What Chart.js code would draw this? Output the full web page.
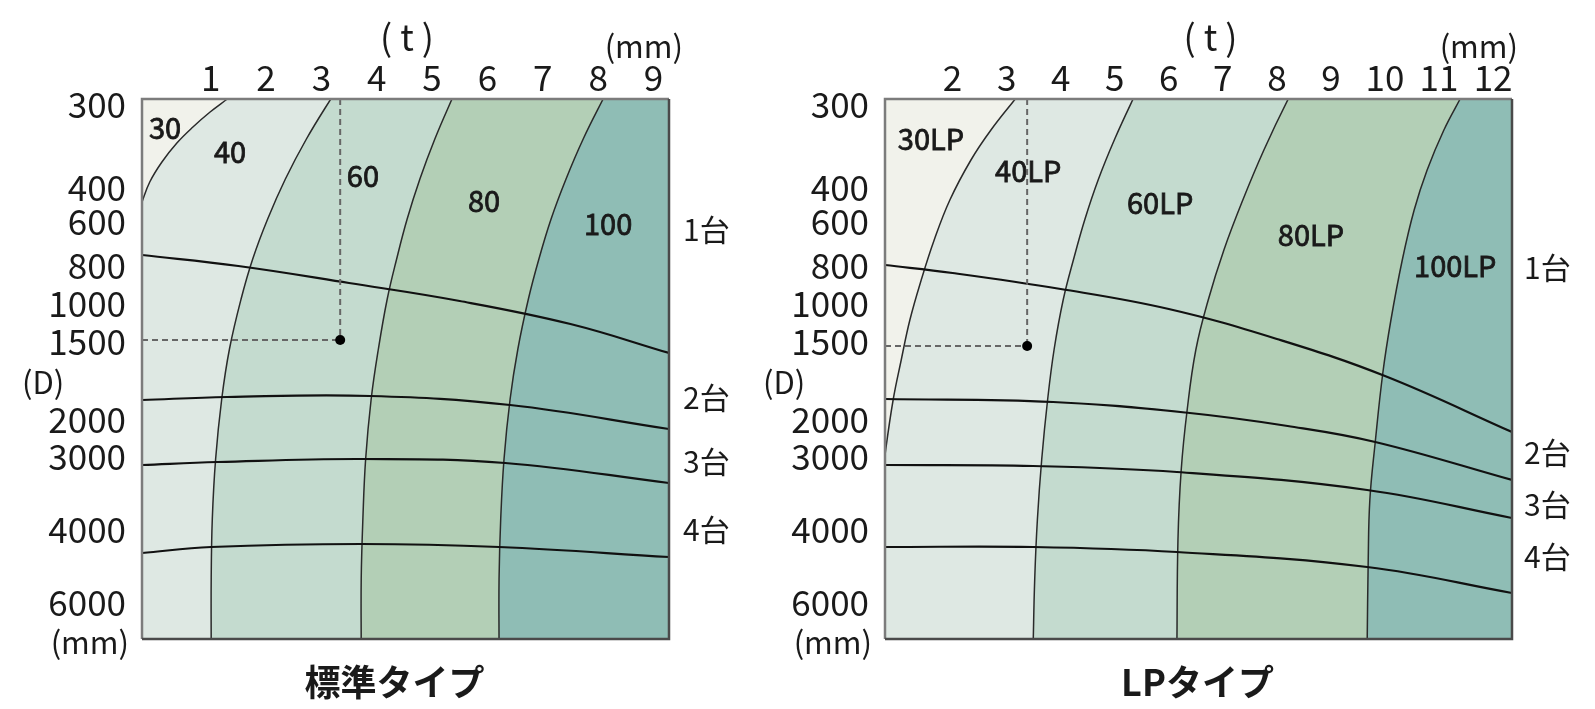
<!DOCTYPE html>
<html>
<head>
<meta charset="utf-8">
<script src="https://cdn.jsdelivr.net/npm/chart.js@4.4.1/dist/chart.umd.min.js"></script>
<style>
  html, body { margin: 0; padding: 0; background: #fff; }
  #stdBox { position: absolute; left: 0; top: 0; }
  #lpBox { position: absolute; left: 750px; top: 0; }
</style>
</head>
<body>
<div id="stdBox"><canvas id="stdChart" width="760" height="709"></canvas></div>
<div id="lpBox"><canvas id="lpChart" width="845" height="709"></canvas></div>
<script>
const FONT = '"Noto Sans CJK JP", "Noto Sans", sans-serif';

// 板厚 (t) の目盛
const stdTicksT = [1, 2, 3, 4, 5, 6, 7, 8, 9];
const lpTicksT = [2, 3, 4, 5, 6, 7, 8, 9, 10, 11, 12];

// 径 (D) の目盛: 等間隔ではないので縦位置を別に持つ
const dLabels = ['300', '400', '600', '800', '1000', '1500', '2000', '3000', '4000', '6000'];
const dPos = [6, 89, 123, 167, 205, 243, 321, 358, 431, 504];

// 台数の区切り
const unitNames = ['1台', '2台', '3台', '4台'];

// 標準タイプ: 機種の境界 [t, D位置]
const std30to40 = [[1.49, -8], [1.30, 0], [0.99, 13], [0.68, 28], [0.39, 44], [0.12, 63], [-0.10, 83], [-0.24, 103], [-0.35, 121], [-0.6, 160], [-0.6, 548]];
const std40to60 = [[3.27, -8], [3.17, 0], [2.73, 40], [2.35, 80], [2.03, 120], [1.76, 160], [1.55, 200], [1.34, 250], [1.20, 300], [1.09, 360], [1.03, 420], [1.01, 480], [1.01, 548]];
const std60to80 = [[5.43, -8], [5.36, 0], [5.05, 40], [4.78, 80], [4.55, 120], [4.36, 160], [4.19, 200], [4.03, 250], [3.90, 300], [3.80, 360], [3.75, 420], [3.72, 480], [3.72, 548]];
const std80to100 = [[8.17, -8], [8.09, 0], [7.73, 40], [7.42, 80], [7.15, 120], [6.93, 160], [6.74, 200], [6.55, 250], [6.41, 300], [6.30, 360], [6.24, 420], [6.21, 480], [6.21, 548]];
// 標準タイプ: 台数の境界
const std1 = [[-0.24, 156], [1.5, 167], [3.5, 184], [5.5, 202], [7.5, 225], [9.28, 254]];
const std2 = [[-0.24, 301], [1.30, 298], [3.88, 297], [6.41, 306], [9.28, 330]];
const std3 = [[-0.24, 366], [1.13, 363], [3.75, 360], [6.32, 364], [9.28, 384]];
const std4 = [[-0.24, 454], [1.01, 448], [3.72, 445], [6.21, 448], [9.28, 458]];
// 選定例
const stdPick = [3.34, 241];

// LPタイプ: 機種の境界
const lp30to40 = [[3.28, -8], [3.16, 0], [2.71, 31], [2.34, 61], [1.95, 101], [1.66, 141], [1.42, 181], [1.21, 221], [1.05, 261], [0.90, 301], [0.75, 356], [0.60, 421], [0.47, 461], [0.29, 548]];
const lp40to60 = [[5.42, -8], [5.34, 0], [5.00, 40], [4.70, 80], [4.45, 120], [4.24, 160], [4.05, 200], [3.88, 250], [3.76, 300], [3.65, 360], [3.57, 420], [3.52, 480], [3.49, 548]];
const lp60to80 = [[8.31, -8], [8.21, 0], [7.76, 51], [7.37, 101], [7.02, 151], [6.73, 201], [6.50, 251], [6.34, 311], [6.23, 371], [6.17, 441], [6.15, 548]];
const lp80to100 = [[11.47, -8], [11.39, 0], [11.09, 31], [10.78, 71], [10.54, 111], [10.32, 161], [10.11, 221], [9.96, 274], [9.82, 343], [9.72, 401], [9.69, 461], [9.67, 548]];
// LPタイプ: 台数の境界
const lp1 = [[0.75, 166], [2, 174], [4, 190], [6, 210], [8, 240], [10, 277], [12.35, 333]];
const lp2 = [[0.75, 300], [3.86, 303], [6.39, 314], [8.2, 327], [9.82, 343], [12.35, 381]];
const lp3 = [[0.75, 366], [3.49, 367], [6.15, 373], [9.67, 391], [12.35, 419]];
const lp4 = [[0.75, 448], [3.49, 448], [6.15, 453], [9.67, 468], [12.35, 494]];
const lpPick = [3.38, 247];

// 機種名と書く場所
const stdZoneNames = ['30', '40', '60', '80', '100'];
const stdZoneAt = [[0.175, 29], [1.35, 53], [3.75, 77], [5.94, 102], [8.18, 125]];
const lpZoneNames = ['30LP', '40LP', '60LP', '80LP', '100LP'];
const lpZoneAt = [[1.60, 40], [3.40, 72], [5.84, 104], [8.63, 136], [11.30, 167]];
const stdUnitAt = [131, 299, 363, 431];
const lpUnitAt = [169, 354, 406, 458];

const stdColors = ['#f1f2eb', '#dee8e3', '#c4dbcf', '#b3cfb6', '#8fbdb5'];
const lpColors = ['#f1f2eb', '#dee8e3', '#c4dbcf', '#b3cfb6', '#8fbdb5'];

function pts(arr) {
    return arr.map(p => ({x: p[0], y: p[1]}));
}

// 背景・枠・文字
function makeNotes(c) {
    return {
        id: 'notes',
        beforeDatasetsDraw(chart) {
            const {ctx, chartArea: a} = chart;
            ctx.save();
            ctx.fillStyle = c.colors[0];
            ctx.fillRect(a.left, a.top, a.width, a.height);
            ctx.restore();
        },
        afterDatasetsDraw(chart) {
            const {ctx, chartArea: a, scales: {x, y}} = chart;
            ctx.save();
            ctx.lineWidth = 2.5;
            ctx.strokeStyle = '#7c7c7c';
            ctx.beginPath();
            ctx.moveTo(a.left, a.bottom);
            ctx.lineTo(a.left, a.top);
            ctx.lineTo(a.right, a.top);
            ctx.stroke();
            ctx.strokeStyle = '#4a4a4a';
            ctx.beginPath();
            ctx.moveTo(a.right, a.top);
            ctx.lineTo(a.right, a.bottom);
            ctx.lineTo(a.left, a.bottom);
            ctx.stroke();

            // 機種名 (少し太め)
            ctx.fillStyle = '#1a1a1a';
            ctx.strokeStyle = '#1a1a1a';
            ctx.lineWidth = 0.8;
            ctx.textBaseline = 'middle';
            ctx.textAlign = 'center';
            ctx.font = '29px ' + FONT;
            c.zoneNames.forEach((t, i) => {
                const px = x.getPixelForValue(c.zoneAt[i][0]);
                const py = y.getPixelForValue(c.zoneAt[i][1]);
                ctx.fillText(t, px, py);
                ctx.strokeText(t, px, py);
            });
            ctx.font = '30px ' + FONT;
            ctx.textAlign = 'left';
            unitNames.forEach((t, i) => {
                ctx.fillText(t, a.right + c.unitGap, y.getPixelForValue(c.unitAt[i]));
            });

            ctx.textAlign = 'center';
            ctx.font = '36px ' + FONT;
            ctx.fillText('( t )', (a.left + a.right) / 2 + c.tShift, 37);
            ctx.textAlign = 'right';
            ctx.font = '31px ' + FONT;
            ctx.fillText('(mm)', a.right + c.mmTopGap, 46);
            ctx.textAlign = 'left';
            ctx.fillText('(D)', a.left - c.dGap, 382);
            ctx.textAlign = 'right';
            ctx.fillText('(mm)', a.left - c.mmBotGap, 642);

            ctx.textAlign = 'center';
            ctx.font = 'bold 36px ' + FONT;
            ctx.fillText(c.title, (a.left + a.right) / 2 + c.titleShift, 682);
            ctx.restore();
        }
    };
}

function buildChart(id, c) {
    const datasets = [];
    c.bounds.forEach((b, i) => {
        datasets.push({
            data: pts(b),
            indexAxis: 'y',
            borderColor: '#2a2a2a',
            borderWidth: 1.5,
            tension: 0.4,
            pointRadius: 0,
            fill: {value: c.xMax + 10},
            backgroundColor: c.colors[i + 1],
            order: 20 - i
        });
    });
    c.units.forEach(u => {
        datasets.push({
            data: pts(u),
            borderColor: '#111',
            borderWidth: 2.2,
            tension: 0.4,
            pointRadius: 0,
            fill: false,
            order: 5
        });
    });
    // 選定例の破線と点
    datasets.push({
        data: pts([[c.pick[0], 0], c.pick]),
        indexAxis: 'y',
        borderColor: '#666',
        borderWidth: 2,
        borderDash: [6, 4],
        pointRadius: 0,
        fill: false,
        order: 3
    });
    datasets.push({
        data: pts([[c.xMin, c.pick[1]], c.pick]),
        borderColor: '#666',
        borderWidth: 2,
        borderDash: [6, 4],
        pointRadius: 0,
        fill: false,
        order: 3
    });
    datasets.push({
        data: pts([c.pick]),
        showLine: false,
        pointRadius: 5,
        pointBackgroundColor: '#000',
        pointBorderWidth: 0,
        order: 1
    });

    return new Chart(document.getElementById(id).getContext('2d'), {
        type: 'line',
        data: {datasets: datasets},
        options: {
            responsive: false,
            animation: false,
            events: [],
            layout: {padding: {left: 0, top: 0, right: c.padRight, bottom: 70}},
            plugins: {
                legend: {display: false},
                tooltip: {enabled: false},
                title: {display: false}
            },
            scales: {
                x: {
                    type: 'linear',
                    position: 'top',
                    min: c.xMin,
                    max: c.xMax,
                    afterBuildTicks: s => { s.ticks = c.ticks.map(v => ({value: v})); },
                    afterFit: s => { s.height = 99; },
                    grid: {display: false, drawTicks: false},
                    border: {display: false},
                    ticks: {
                        autoSkip: false,
                        maxRotation: 0,
                        padding: 0,
                        color: '#1a1a1a',
                        font: {family: FONT, size: 35}
                    }
                },
                y: {
                    type: 'linear',
                    reverse: true,
                    min: 0,
                    max: 540,
                    afterBuildTicks: s => { s.ticks = dPos.map(v => ({value: v})); },
                    afterFit: s => { s.width = c.yWidth; },
                    grid: {display: false, drawTicks: false},
                    border: {display: false},
                    ticks: {
                        autoSkip: false,
                        padding: 16,
                        color: '#1a1a1a',
                        font: {family: FONT, size: 35},
                        callback: (v, i) => dLabels[i]
                    }
                }
            }
        },
        plugins: [makeNotes(c)]
    });
}

// 標準タイプ
const stdChart = buildChart('stdChart', {
    title: '標準タイプ',
    xMin: -0.24, xMax: 9.28, ticks: stdTicksT,
    bounds: [std30to40, std40to60, std60to80, std80to100],
    units: [std1, std2, std3, std4],
    pick: stdPick,
    colors: stdColors,
    zoneNames: stdZoneNames, zoneAt: stdZoneAt, unitAt: stdUnitAt,
    yWidth: 142, padRight: 91,
    unitGap: 14, tShift: 1.5, mmTopGap: 14, dGap: 120, mmBotGap: 13, titleShift: -11
});

// LPタイプ
const lpChart = buildChart('lpChart', {
    title: 'LPタイプ',
    xMin: 0.75, xMax: 12.35, ticks: lpTicksT,
    bounds: [lp30to40, lp40to60, lp60to80, lp80to100],
    units: [lp1, lp2, lp3, lp4],
    pick: lpPick,
    colors: lpColors,
    zoneNames: lpZoneNames, zoneAt: lpZoneAt, unitAt: lpUnitAt,
    yWidth: 135, padRight: 83,
    unitGap: 12, tShift: 12, mmTopGap: 6, dGap: 122, mmBotGap: 13, titleShift: -1
});
</script>
</body>
</html>
